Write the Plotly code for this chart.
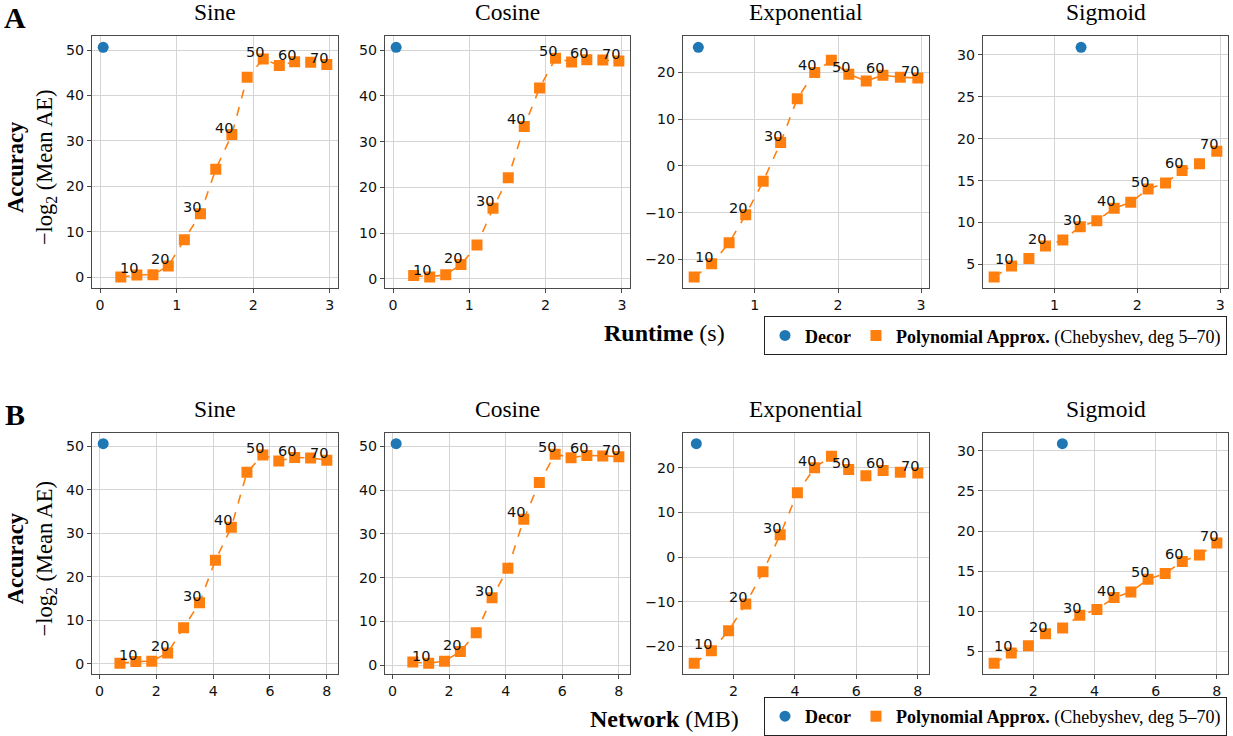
import plotly.graph_objects as go

# ---- data -------------------------------------------------------------
degrees = [5, 10, 15, 20, 25, 30, 35, 40, 45, 50, 55, 60, 65, 70]
functions = ["Sine", "Cosine", "Exponential", "Sigmoid"]

runtime_s = [0.27, 0.48, 0.69, 0.89, 1.10, 1.31, 1.51, 1.72, 1.92, 2.13, 2.34, 2.54, 2.75, 2.96]
network_mb = [0.72, 1.28, 1.84, 2.40, 2.96, 3.52, 4.08, 4.64, 5.19, 5.75, 6.31, 6.87, 7.43, 8.00]

acc_sine = [0.1, 0.5, 0.6, 2.5, 8.3, 14.0, 23.8, 31.4, 44.0, 48.0, 46.6, 47.4, 47.3, 46.8]
acc_cosine = [0.7, 0.4, 0.9, 3.1, 7.4, 15.4, 22.1, 33.3, 41.7, 48.2, 47.4, 47.9, 47.8, 47.6]
acc_exponential = [-23.8, -21.0, -16.5, -10.5, -3.3, 5.0, 14.4, 20.0, 22.6, 19.6, 18.2, 19.4, 19.0, 18.8]
acc_sigmoid = [3.5, 4.8, 5.7, 7.2, 7.9, 9.5, 10.2, 11.7, 12.4, 14.0, 14.7, 16.2, 17.0, 18.5]

decor_runtime_s = [0.04, 0.04, 0.32, 1.32]
decor_network_mb = [0.13, 0.13, 0.79, 2.95]
decor_acc = [50.6, 50.6, 25.4, 30.9]

poly_acc = [acc_sine, acc_cosine, acc_exponential, acc_sigmoid]
label_degrees = [10, 20, 30, 40, 50, 60, 70]

# ---- layout geometry (pixels of a 1233 x 736 canvas) ------------------
W, H = 1233, 736
col_px = [(92, 338), (385, 630), (683, 929), (983, 1228)]
row_px = [(36, 290), (435, 678)]
row_tick = [1, 2]

BLUE = "#1f77b4"
ORANGE = "#ff7f0e"
SERIF = "Liberation Serif"
SANS = "DejaVu Sans"


def padded(lo, hi, frac=0.05):
    span = hi - lo
    return [lo - frac * span, hi + frac * span]


fig = go.Figure()
annotations = []

rows = [
    dict(x=runtime_s, decor_x=decor_runtime_s, legend="legend", letter="A",
         xtitle="<b>Runtime</b> (s)"),
    dict(x=network_mb, decor_x=decor_network_mb, legend="legend2", letter="B",
         xtitle="<b>Network</b> (MB)"),
]

for r, row in enumerate(rows):
    y0, y1 = row_px[r]
    for c, name in enumerate(functions):
        k = r * 4 + c + 1
        xa = "x" if k == 1 else f"x{k}"
        ya = "y" if k == 1 else f"y{k}"
        xs = row["x"]
        ys = poly_acc[c]
        dx = row["decor_x"][c]
        dy = decor_acc[c]

        # dashed connector
        fig.add_trace(go.Scatter(
            x=xs, y=ys, mode="lines", xaxis=xa, yaxis=ya,
            line=dict(color=ORANGE, width=1.6, dash="dash"),
            showlegend=False, hoverinfo="skip"))
        # polynomial approximations
        fig.add_trace(go.Scatter(
            x=xs, y=ys, mode="markers", xaxis=xa, yaxis=ya,
            marker=dict(symbol="square", size=11, color=ORANGE),
            name="<b>Polynomial Approx.</b> (Chebyshev, deg 5\u201370)",
            legend=row["legend"], legendrank=2, showlegend=(c == 0)))
        # Decor
        fig.add_trace(go.Scatter(
            x=[dx], y=[dy], mode="markers", xaxis=xa, yaxis=ya,
            marker=dict(symbol="circle", size=11, color=BLUE),
            name="<b>Decor</b>", legend=row["legend"], legendrank=1,
            showlegend=(c == 0)))

        # degree labels
        for d, xv, yv in zip(degrees, xs, ys):
            if d in label_degrees:
                annotations.append(dict(
                    x=xv, y=yv, xref=xa, yref=ya, text=str(d), showarrow=False,
                    xanchor="right", yanchor="bottom", xshift=3, yshift=-3,
                    font=dict(family=SANS, size=14.5, color="#111")))

        xr = padded(min(xs + [dx]), max(xs + [dx]))
        yr = padded(min(ys + [dy]), max(ys + [dy]))
        ydt = 5 if name == "Sigmoid" else 10
        axis_common = dict(
            showline=True, mirror=True, linecolor="#4a4a4a", linewidth=1,
            ticks="outside", ticklen=4, tickwidth=1, tickcolor="#4a4a4a",
            showgrid=True, gridcolor="#d4d4d4", gridwidth=1, zeroline=False,
            tickfont=dict(family=SANS, size=14.2, color="#111"))
        fig.layout[f"xaxis{'' if k == 1 else k}"] = dict(
            domain=[col_px[c][0] / W, col_px[c][1] / W], anchor=ya, range=xr,
            dtick=row_tick[r], tick0=0, **axis_common)
        fig.layout[f"yaxis{'' if k == 1 else k}"] = dict(
            domain=[1 - y1 / H, 1 - y0 / H], anchor=xa, range=yr,
            dtick=ydt, tick0=0, **axis_common)

        # subplot title
        annotations.append(dict(
            x=(col_px[c][0] + col_px[c][1]) / 2 / W, y=1 - (y0 - 24) / H,
            xref="paper", yref="paper", text=name, showarrow=False,
            xanchor="center", yanchor="middle",
            font=dict(family=SERIF, size=23.5, color="#000")))

    # panel letter
    annotations.append(dict(
        x=15 / W, y=1 - (y0 - 18) / H, xref="paper", yref="paper",
        text=f"<b>{row['letter']}</b>", showarrow=False,
        xanchor="center", yanchor="middle",
        font=dict(family=SERIF, size=30, color="#000")))
    # y-axis title
    annotations.append(dict(
        x=31 / W, y=1 - ((y0 + y1) / 2 + 5) / H, xref="paper", yref="paper",
        text="<b>Accuracy</b><br>\u2212log<sub>2</sub> (Mean AE)", showarrow=False,
        textangle=-90, xanchor="center", yanchor="middle",
        font=dict(family=SERIF, size=22.5, color="#000")))
    # x-axis title
    annotations.append(dict(
        x=664 / W, y=1 - (y1 + 45) / H, xref="paper", yref="paper",
        text=row["xtitle"], showarrow=False, xanchor="center", yanchor="middle",
        font=dict(family=SERIF, size=24, color="#000")))

legend_common = dict(
    orientation="h", xanchor="right", yanchor="top",
    bgcolor="white", bordercolor="#222", borderwidth=1,
    font=dict(family=SERIF, size=18, color="#000"),
    itemwidth=30, tracegroupgap=0)

fig.update_layout(
    width=W, height=H,
    margin=dict(l=0, r=0, t=0, b=0),
    paper_bgcolor="white", plot_bgcolor="white",
    annotations=annotations,
    legend=dict(x=1227 / W, y=1 - 318 / H, **legend_common),
    legend2=dict(x=1227 / W, y=1 - 701 / H, **legend_common),
)

fig.write_html("out.html")
